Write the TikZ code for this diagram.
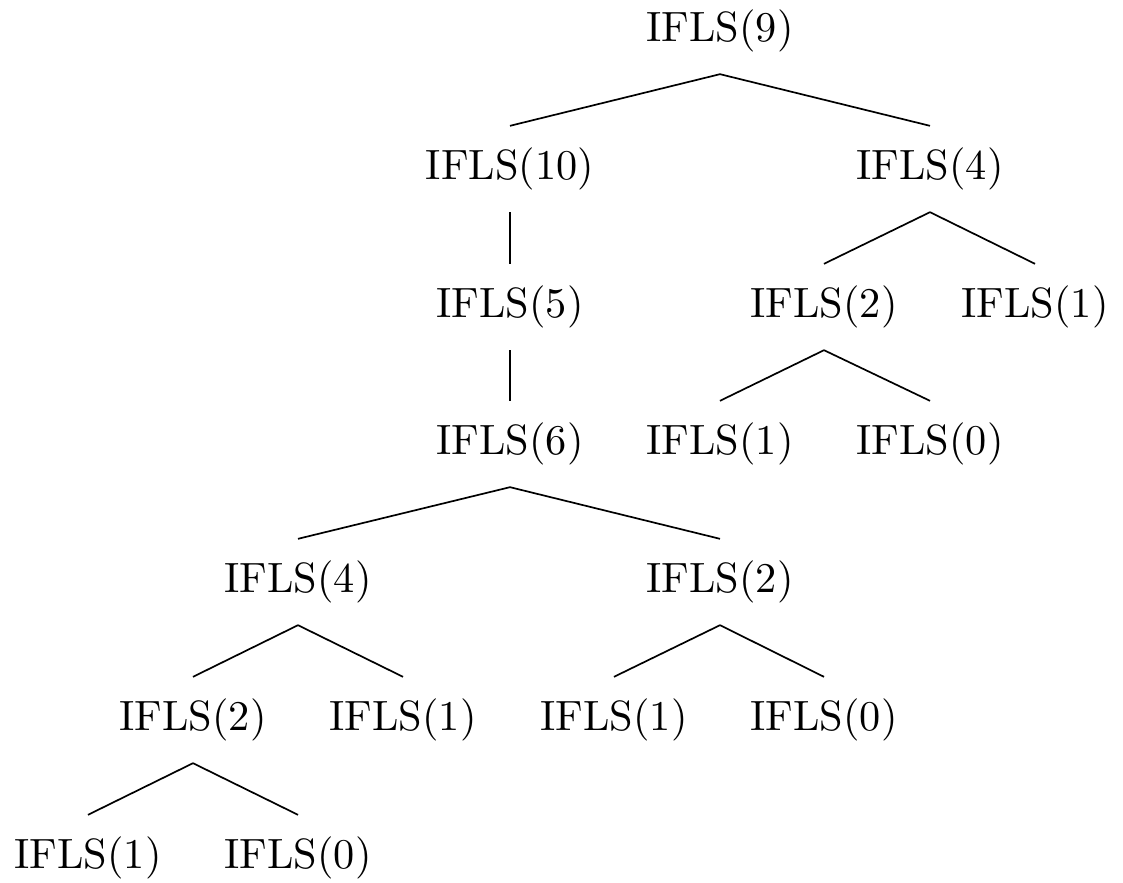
\documentclass[tikz,border=0pt]{standalone}
\begin{document}
\begin{tikzpicture}[
    x=0.2362pt,
    y=-0.2362pt,
    call/.style={
        inner sep=5pt
    },
    link/.style={
        thin
    }
]
\useasboundingbox (0,0) rectangle (1123,883);

\node (n9) [call] at (720,31) {IFLS(9)};
\node (n10) [call] at (510,169) {IFLS(10)};
\node (n4a) [call] at (930,169) {IFLS(4)};
\node (n5) [call] at (510,307) {IFLS(5)};
\node (n2a) [call] at (824,307) {IFLS(2)};
\node (n1a) [call] at (1035,307) {IFLS(1)};
\node (n6) [call] at (510,444) {IFLS(6)};
\node (n1b) [call] at (720,444) {IFLS(1)};
\node (n0a) [call] at (930,444) {IFLS(0)};
\node (n4b) [call] at (298,582) {IFLS(4)};
\node (n2b) [call] at (720,582) {IFLS(2)};
\node (n2c) [call] at (193,720) {IFLS(2)};
\node (n1c) [call] at (403,720) {IFLS(1)};
\node (n1d) [call] at (614,720) {IFLS(1)};
\node (n0b) [call] at (824,720) {IFLS(0)};
\node (n1e) [call] at (88,858) {IFLS(1)};
\node (n0c) [call] at (298,858) {IFLS(0)};

\draw [link] (n9.south) -- (n10.north);
\draw [link] (n9.south) -- (n4a.north);
\draw [link] (n10.south) -- (n5.north);
\draw [link] (n4a.south) -- (n2a.north);
\draw [link] (n4a.south) -- (n1a.north);
\draw [link] (n5.south) -- (n6.north);
\draw [link] (n2a.south) -- (n1b.north);
\draw [link] (n2a.south) -- (n0a.north);
\draw [link] (n6.south) -- (n4b.north);
\draw [link] (n6.south) -- (n2b.north);
\draw [link] (n4b.south) -- (n2c.north);
\draw [link] (n4b.south) -- (n1c.north);
\draw [link] (n2b.south) -- (n1d.north);
\draw [link] (n2b.south) -- (n0b.north);
\draw [link] (n2c.south) -- (n1e.north);
\draw [link] (n2c.south) -- (n0c.north);
\end{tikzpicture}
\end{document}
